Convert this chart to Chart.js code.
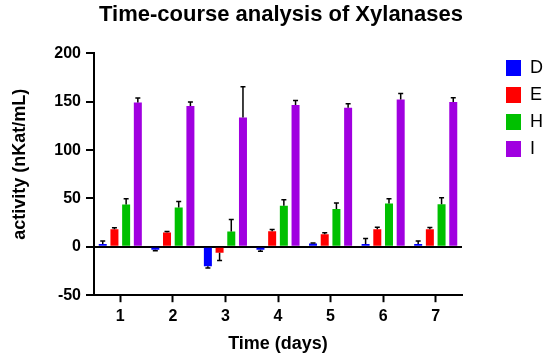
<!DOCTYPE html>
<html><head><meta charset="utf-8">
<script src="https://cdn.jsdelivr.net/npm/chart.js@4/dist/chart.umd.min.js"></script>
<style>html,body{margin:0;padding:0;background:#fff}#wrap{width:550px;height:361px}</style>
</head><body><div id="wrap"><canvas id="c" width="550" height="361"></canvas></div>
<script>
const days = ['1','2','3','4','5','6','7'];
const seriesNames = ['D','E','H','I'];
const valuesD = [3, -3, -20, -3, 3.5, 3, 3];
const valuesE = [18.3, 14.8, -6, 16.2, 13.1, 18.3, 18.3];
const valuesH = [43.8, 40.7, 15.9, 42.4, 39, 44.8, 44.1];
const valuesI = [149.3, 145.5, 133.8, 146.6, 143.8, 152.4, 149.7];
const errD = [3, 1, 2, 1.5, 0.5, 5.5, 3];
const errE = [1.4, 1, 8, 1.6, 1.4, 2, 1.7];
const errH = [6, 6.2, 12.4, 6.2, 6.2, 5, 6.6];
const errI = [4.5, 4.2, 31.7, 4.8, 4.1, 6.2, 4.4];
const yTicks = [-50, 0, 50, 100, 150, 200];

const colors = ['#0000FF', '#FF0000', '#00C000', '#A000E0'];
const allValues = [valuesD, valuesE, valuesH, valuesI];
const allErr = [errD, errE, errH, errI];

const FONT = "'Liberation Sans', Arial, Helvetica, sans-serif";

const errorBars = {
  id: 'errorBars',
  afterDatasetsDraw(chart) {
    const ctx = chart.ctx;
    const y = chart.scales.y;
    ctx.save();
    ctx.strokeStyle = '#000';
    ctx.lineWidth = 1.5;
    chart.data.datasets.forEach((ds, di) => {
      const meta = chart.getDatasetMeta(di);
      meta.data.forEach((bar, i) => {
        const v = ds.data[i];
        const e = ds.errors[i];
        const end = v >= 0 ? v + e : v - e;
        const py0 = y.getPixelForValue(v);
        const py1 = y.getPixelForValue(end);
        ctx.beginPath();
        ctx.moveTo(bar.x, py0);
        ctx.lineTo(bar.x, py1);
        ctx.moveTo(bar.x - 2.5, py1);
        ctx.lineTo(bar.x + 2.5, py1);
        ctx.stroke();
      });
    });
    ctx.restore();
  }
};

new Chart(document.getElementById('c'), {
  type: 'bar',
  data: {
    labels: days,
    datasets: seriesNames.map((n, k) => ({
      label: n,
      data: allValues[k],
      errors: allErr[k],
      backgroundColor: colors[k],
      borderWidth: 0,
      categoryPercentage: 0.89,
      barPercentage: 0.684
    }))
  },
  options: {
    responsive: false,
    animation: false,
    devicePixelRatio: 1,
    layout: { padding: { left: 9, right: -3, top: 0, bottom: 6 } },
    plugins: {
      title: {
        display: true,
        text: 'Time-course analysis of Xylanases',
        color: '#000',
        font: { family: FONT, size: 22, weight: 'bold' },
        padding: { top: 2, bottom: 25 }
      },
      legend: {
        position: 'right',
        align: 'start',
        title: { display: true, text: '', font: { size: 10, lineHeight: 1 }, padding: { top: 40, bottom: 0 } },
        labels: {
          boxWidth: 15, boxHeight: 16, padding: 9,
          color: '#000',
          font: { family: FONT, size: 18 }
        }
      },
      tooltip: { enabled: false }
    },
    scales: {
      x: {
        offset: true,
        grid: { display: true, drawOnChartArea: false, offset: false, tickLength: 7, tickWidth: 2, tickColor: '#000', color: '#000' },
        border: { display: true, color: '#000', width: 2 },
        ticks: { color: '#000', padding: 5, font: { family: FONT, size: 16, weight: 'bold' } },
        title: { display: true, text: 'Time (days)', color: '#000', padding: { top: 2, bottom: 0 }, font: { family: FONT, size: 18, weight: 'bold' } }
      },
      y: {
        min: -50, max: 200,
        afterBuildTicks(s) { s.ticks = yTicks.map(v => ({ value: v })); },
        afterFit(s) { s.width = 85; },
        grid: {
          color: c => (c.tick && c.tick.value === 0) ? '#000' : 'rgba(0,0,0,0)',
          lineWidth: 2, tickLength: 8, tickWidth: 2, tickColor: '#000'
        },
        border: { display: true, color: '#000', width: 2 },
        ticks: { color: '#000', padding: 5, font: { family: FONT, size: 16, weight: 'bold' } },
        title: { display: true, text: '    activity (nKat/mL)', color: '#000', padding: { top: 0, bottom: 0 }, font: { family: FONT, size: 18, weight: 'bold' } }
      },
      gap: {
        type: 'linear', position: 'right', display: true,
        grid: { display: false }, border: { display: false }, ticks: { display: false },
        afterFit(s) { s.width = 35; }
      }
    }
  },
  plugins: [errorBars]
});
</script>
</body></html>
